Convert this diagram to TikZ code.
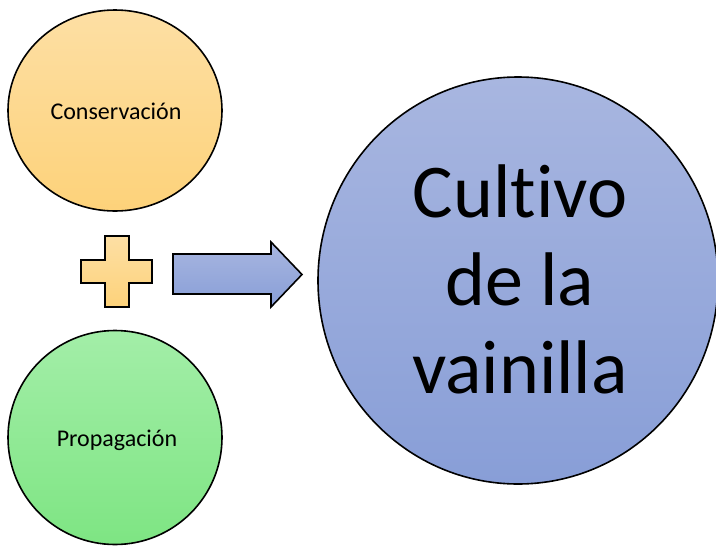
\documentclass[tikz,border=0pt]{standalone}
\usepackage{fontspec}
\setmainfont[Ligatures={NoCommon}]{Carlito}
\usetikzlibrary{shapes.geometric}
\definecolor{orTop}{HTML}{FDDFA4}
\definecolor{orBot}{HTML}{FDD27A}
\definecolor{grTop}{HTML}{A3EEA8}
\definecolor{grBot}{HTML}{7EE583}
\definecolor{blTop}{HTML}{A8B6E0}
\definecolor{blBot}{HTML}{889ED7}
\begin{document}
\begin{tikzpicture}[x=1pt,y=-1pt,
  blob/.style={ellipse, draw=black, line width=1.6pt, inner sep=0pt},
  shapeline/.style={draw=black, line width=1.6pt, line join=miter}]
\useasboundingbox (0,0) rectangle (716,547);
% orange circle
\node[blob, minimum width=214pt, minimum height=201pt, top color=orTop, bottom color=orBot] (cons) at (115,110.5) {};
\node[font=\fontsize{24}{28}\selectfont] (consT) at (116,111.5) {Conservación};
% green circle
\node[blob, minimum width=214pt, minimum height=214pt, top color=grTop, bottom color=grBot] (prop) at (115,437.5) {};
\node[font=\fontsize{24}{28}\selectfont] (propT) at (117,440) {Propagación};
% blue circle
\node[blob, minimum width=400pt, minimum height=407pt, top color=blTop, bottom color=blBot] (cult) at (518,280.5) {};
\node[align=center, font=\fontsize{76}{88}\selectfont] (cultT) at (520,279) {Cultivo\\de la\\vainilla};
% plus sign
\coordinate (plus) at (117,271.5);
\path[shapeline, top color=orTop, bottom color=orBot]
  (105,236) -- (129,236) -- (129,260) -- (152,260) -- (152,283) -- (129,283)
  -- (129,307) -- (105,307) -- (105,283) -- (81,283) -- (81,260) -- (105,260) -- cycle;
% block arrow
\path[shapeline, top color=blTop, bottom color=blBot]
  (173,254) -- (271,254) -- (271,242) -- (302,274.5) -- (271,307) -- (271,294)
  -- (173,294) -- cycle;
\end{tikzpicture}
\end{document}
